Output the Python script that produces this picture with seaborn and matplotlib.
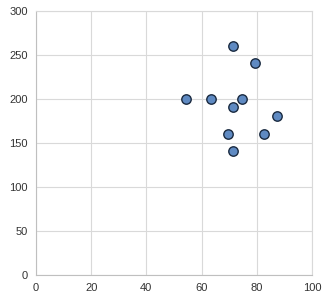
import matplotlib
matplotlib.use("Agg")
import matplotlib.pyplot as plt
import seaborn as sns
import pandas as pd

x_vals = [54.5, 63.5, 71.5, 79.5, 74.5, 71.5, 87.5, 69.5, 82.5, 71.5]
y_vals = [200.5, 200.5, 260.5, 240.5, 200.5, 190.5, 180.5, 160.5, 160.5, 140.5]
x_ticks = [0, 20, 40, 60, 80, 100]
y_ticks = [0, 50, 100, 150, 200, 250, 300]

df = pd.DataFrame({"x": x_vals, "y": y_vals})

sns.set_style("white")
plt.rcParams['font.family'] = ['Liberation Sans', 'DejaVu Sans']

fig = plt.figure(figsize=(3.27, 3.06), dpi=100)
ax = fig.add_axes([0.110, 0.101, 0.844, 0.863])

sns.scatterplot(data=df, x="x", y="y", ax=ax, s=46, color="#5f8ac2",
                edgecolor="#1a2a40", linewidth=1.0, zorder=3, legend=False)

ax.set_xlim(0, 100)
ax.set_ylim(0, 300)
ax.set_xticks(x_ticks)
ax.set_yticks(y_ticks)
ax.set_xticklabels([str(t) for t in x_ticks], fontsize=8, color="#333333")
ax.set_yticklabels([str(t) for t in y_ticks], fontsize=8, color="#333333")
ax.grid(True, color="#d9d9d9", linewidth=0.8)
ax.set_axisbelow(True)
ax.set_xlabel("")
ax.set_ylabel("")
for s in ["top", "right"]:
    ax.spines[s].set_visible(True)
    ax.spines[s].set_color("#d9d9d9")
    ax.spines[s].set_linewidth(0.8)
for s in ["left", "bottom"]:
    ax.spines[s].set_color("#bfbfbf")
    ax.spines[s].set_linewidth(0.8)
ax.tick_params(axis="both", length=0, pad=6)

fig.savefig("out.png", dpi=100)
